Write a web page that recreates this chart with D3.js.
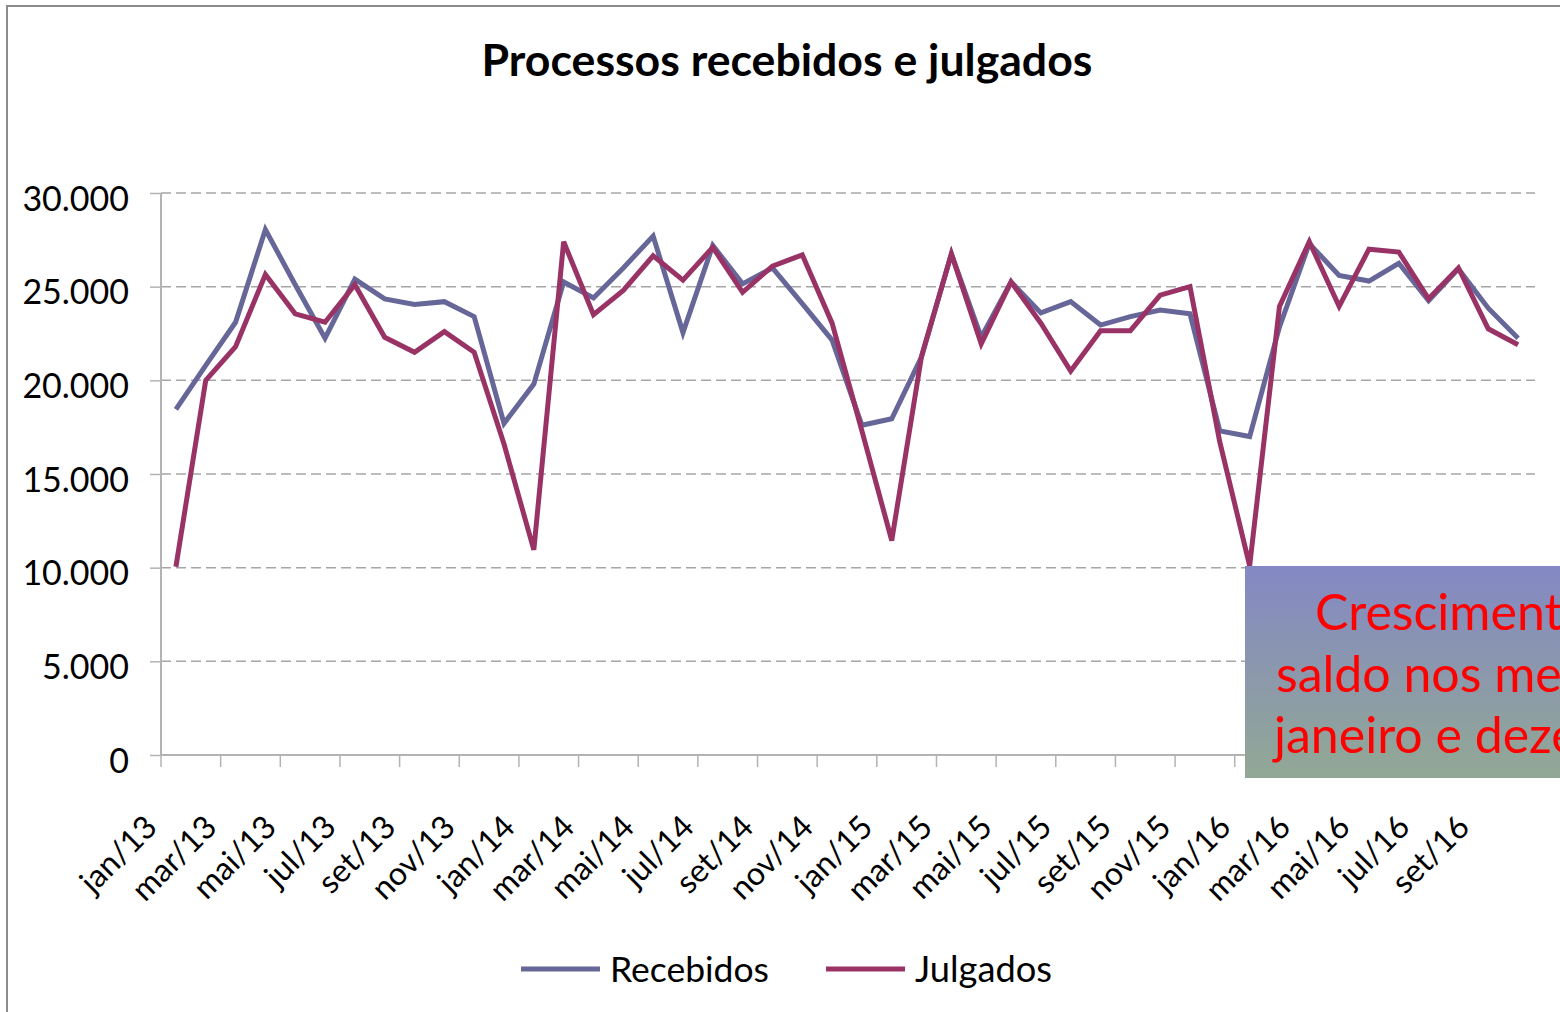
<!DOCTYPE html>
<html>
<head>
<meta charset="utf-8">
<script src="https://cdn.jsdelivr.net/npm/d3@7"></script>
<style>
  body { margin: 0; background: #fff; }
  svg { display: block; font-family: Lato, "Open Sans", sans-serif; }
</style>
</head>
<body>
<script>
// Data
const months = [
  "jan/13","fev/13","mar/13","abr/13","mai/13","jun/13","jul/13","ago/13","set/13","out/13","nov/13","dez/13",
  "jan/14","fev/14","mar/14","abr/14","mai/14","jun/14","jul/14","ago/14","set/14","out/14","nov/14","dez/14",
  "jan/15","fev/15","mar/15","abr/15","mai/15","jun/15","jul/15","ago/15","set/15","out/15","nov/15","dez/15",
  "jan/16","fev/16","mar/16","abr/16","mai/16","jun/16","jul/16","ago/16","set/16","out/16"
];
const recebidos = [
  18450,20800,23100,28050,25100,22250,25400,24350,24050,24200,23400,17700,
  19800,25250,24400,26000,27700,22550,27200,25150,26000,24100,22150,17600,
  17950,21250,26750,22300,25250,23600,24200,22950,23400,23750,23550,17300,
  17000,22850,27300,25600,25300,26250,24250,25950,23850,22250
];
const julgados = [
  10050,20000,21800,25650,23550,23100,25100,22300,21500,22600,21500,16600,
  10950,27400,23500,24800,26650,25350,27100,24700,26100,26700,23050,17300,
  11450,21300,26750,21950,25250,23050,20500,22650,22650,24550,25000,16700,
  10100,23950,27400,23950,27000,26850,24350,26000,22750,21900
];
const yTicks = [0, 5000, 10000, 15000, 20000, 25000, 30000];
const seriesNames = ["Recebidos", "Julgados"];
const seriesColors = ["#666699", "#993366"];
const noteLines = ["Crescimento do", "saldo nos meses de", "janeiro e dezembro"];

const width = 1560, height = 1012;
const plotL = 161, plotR = 1533, plotT = 193, plotB = 755;

const svg = d3.select("body").append("svg")
  .attr("width", width)
  .attr("height", height);

// chart border
svg.append("rect")
  .attr("x", 7).attr("y", 6)
  .attr("width", 1700).attr("height", 1200)
  .attr("fill", "none")
  .attr("stroke", "#8c8c8c")
  .attr("stroke-width", 2);

// fit text to a target width
function fit(sel, target) {
  const fs = parseFloat(sel.attr("font-size"));
  const w = sel.node().getComputedTextLength();
  sel.attr("font-size", fs * target / w);
}

// Title
svg.append("text")
  .attr("x", 787).attr("y", 76)
  .attr("text-anchor", "middle")
  .attr("font-weight", "bold")
  .attr("font-size", 36)
  .text("Processos recebidos e julgados")
  .call(fit, 611);

// Scales
const x = d3.scaleBand().domain(months).range([plotL, plotR]).padding(0);
const cx = (m) => x(m) + x.bandwidth() / 2;
const y = d3.scaleLinear().domain([0, 30000]).range([plotB, plotT]);

const ptBR = d3.formatLocale({ decimal: ",", thousands: ".", grouping: [3], currency: ["R$", ""] });
const fmt = ptBR.format(",.0f");

// Gridlines
svg.append("g")
  .selectAll("line")
  .data(yTicks.filter((d) => d > 0))
  .join("line")
  .attr("x1", plotL).attr("x2", plotR + 2)
  .attr("y1", (d) => y(d)).attr("y2", (d) => y(d))
  .attr("stroke", "#a6a6a6")
  .attr("stroke-width", 1.5)
  .attr("stroke-dasharray", "10,5");

// Y axis
const yAxis = svg.append("g")
  .attr("transform", `translate(${plotL},0)`)
  .call(d3.axisLeft(y).tickValues(yTicks).tickSize(11).tickPadding(21).tickFormat(fmt));
yAxis.select(".domain").attr("stroke", "#b3b3b3").attr("stroke-width", 2)
  .attr("d", `M0,${plotT}V${plotB}`);
yAxis.selectAll(".tick line").attr("stroke", "#b3b3b3").attr("stroke-width", 1.5);
yAxis.selectAll(".tick text")
  .attr("font-family", "Lato, sans-serif")
  .attr("font-size", 34)
  .attr("fill", "#000")
  .attr("dy", "0.5em");

// X axis
const xAxis = svg.append("g").attr("transform", `translate(0,${plotB})`);
xAxis.append("line")
  .attr("x1", plotL).attr("x2", plotR)
  .attr("stroke", "#b3b3b3").attr("stroke-width", 2);
const tickPos = d3.range(0, months.length + 1, 2).map((i) => plotL + i * x.bandwidth());
xAxis.selectAll("line.tk")
  .data(tickPos)
  .join("line")
  .attr("class", "tk")
  .attr("x1", (d) => d).attr("x2", (d) => d)
  .attr("y1", 0).attr("y2", 12)
  .attr("stroke", "#b3b3b3").attr("stroke-width", 1.5);
xAxis.selectAll("text")
  .data(months.filter((d, i) => i % 2 === 0))
  .join("text")
  .attr("text-anchor", "end")
  .attr("font-size", 32)
  .attr("transform", (d) => `translate(${cx(d) - 17},${74}) rotate(-45)`)
  .text((d) => d);

// Lines
const line = d3.line().x((d, i) => cx(months[i])).y((d) => y(d));
[recebidos, julgados].forEach((vals, k) => {
  svg.append("path")
    .datum(vals)
    .attr("fill", "none")
    .attr("stroke", seriesColors[k])
    .attr("stroke-width", 5)
    .attr("stroke-linejoin", "miter")
    .attr("d", line);
});

// Legend
const legendX = [521, 826];
seriesNames.forEach((name, k) => {
  const g = svg.append("g").attr("transform", `translate(${legendX[k]},969)`);
  g.append("line").attr("x1", 0).attr("x2", 79)
    .attr("stroke", seriesColors[k]).attr("stroke-width", 5);
  g.append("text")
    .attr("x", 89).attr("y", 13)
    .attr("font-size", 34)
    .text(name)
    .call(fit, k === 0 ? 159 : 137);
});

// Annotation box (cut by the right edge, as in the source)
const defs = svg.append("defs");
const grad = defs.append("linearGradient")
  .attr("id", "noteGrad").attr("x1", 0).attr("y1", 0).attr("x2", 0).attr("y2", 1);
grad.append("stop").attr("offset", "0%").attr("stop-color", "#8488c4");
grad.append("stop").attr("offset", "100%").attr("stop-color", "#92a894");

svg.append("rect")
  .attr("x", 1245).attr("y", 566)
  .attr("width", 400).attr("height", 212)
  .attr("fill", "url(#noteGrad)");

const noteX = [1315, 1276, 1274];
svg.append("g")
  .selectAll("text")
  .data(noteLines)
  .join("text")
  .attr("x", (d, i) => noteX[i])
  .attr("y", (d, i) => 630 + i * 61.7)
  .attr("font-size", 50)
  .attr("fill", "#ff0000")
  .text((d) => d);
</script>
</body>
</html>
